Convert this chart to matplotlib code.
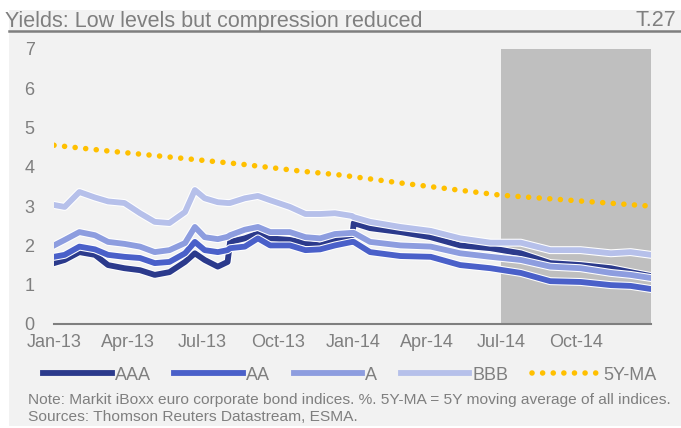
import matplotlib
matplotlib.use("Agg")
import matplotlib.pyplot as plt
import matplotlib.patheffects as pe
from matplotlib.patches import Rectangle
import pandas as pd

# data (%)
dates = ["2013-01-01", "2013-01-14", "2013-02-01", "2013-02-20", "2013-03-08",
         "2013-03-28", "2013-04-16", "2013-05-04", "2013-05-22", "2013-06-10",
         "2013-06-22", "2013-07-04", "2013-07-20", "2013-08-01", "2013-08-04",
         "2013-08-22", "2013-09-07", "2013-09-22", "2013-10-16", "2013-11-04",
         "2013-11-22", "2013-12-10", "2013-12-31", "2014-01-02", "2014-01-22",
         "2014-02-28", "2014-04-06", "2014-05-12", "2014-06-18", "2014-07-25",
         "2014-08-30", "2014-10-06", "2014-11-12", "2014-12-06", "2014-12-31"]
aaa = [1.55, 1.63, 1.83, 1.76, 1.50, 1.42, 1.37, 1.25, 1.32, 1.58,
       1.80, 1.63, 1.46, 1.58, 2.09, 2.18, 2.30, 2.18, 2.14, 2.06,
       2.00, 2.14, 2.18, 2.57, 2.44, 2.34, 2.21, 2.00, 1.93, 1.80,
       1.55, 1.50, 1.42, 1.32, 1.22]
aa = [1.71, 1.76, 1.97, 1.90, 1.76, 1.71, 1.68, 1.55, 1.58, 1.80,
      2.09, 1.88, 1.83, 1.88, 1.93, 1.97, 2.18, 2.00, 2.00, 1.88,
      1.90, 2.00, 2.09, 2.09, 1.83, 1.73, 1.71, 1.50, 1.42, 1.30,
      1.09, 1.07, 0.99, 0.97, 0.89]
a = [2.00, 2.14, 2.34, 2.26, 2.09, 2.04, 1.97, 1.83, 1.88, 2.06,
     2.47, 2.21, 2.16, 2.22, 2.26, 2.40, 2.47, 2.34, 2.34, 2.21,
     2.18, 2.29, 2.32, 2.32, 2.09, 2.00, 1.97, 1.80, 1.71, 1.63,
     1.46, 1.42, 1.30, 1.25, 1.17]
bbb = [3.03, 2.98, 3.36, 3.22, 3.12, 3.08, 2.82, 2.60, 2.57, 2.85,
       3.41, 3.20, 3.10, 3.08, 3.08, 3.20, 3.26, 3.15, 2.98, 2.80,
       2.80, 2.82, 2.75, 2.72, 2.60, 2.47, 2.37, 2.18, 2.07, 2.07,
       1.88, 1.88, 1.80, 1.83, 1.76]

ma_dates = ["2013-01-01", "2013-03-10", "2013-04-28", "2013-08-17", "2013-10-30",
            "2013-12-18", "2014-02-28", "2014-06-30", "2014-10-06", "2014-12-31"]
ma = [4.55, 4.40, 4.30, 4.07, 3.89, 3.79, 3.59, 3.28, 3.13, 3.00]

shade_start, shade_end = "2014-07-01", "2014-12-31"
tick_dates = ["2013-01-01", "2013-04-01", "2013-07-01", "2013-10-01",
              "2014-01-01", "2014-04-01", "2014-07-01", "2014-10-01"]
tick_labels = ["Jan-13", "Apr-13", "Jul-13", "Oct-13", "Jan-14", "Apr-14", "Jul-14", "Oct-14"]

series = [("AAA", aaa, "#2B3A8C"), ("AA", aa, "#4A60C9"),
          ("A", a, "#8D9DDF"), ("BBB", bbb, "#B6C0EA")]

plt.rcParams["font.family"] = ["Liberation Sans", "DejaVu Sans"]
GREY = "#7F7F7F"

fig = plt.figure(figsize=(6.81, 4.28), dpi=100, facecolor="white")
fig.patches.append(Rectangle((9 / 681, 2 / 428), 1 - 9 / 681, 1 - 12 / 428,
                             transform=fig.transFigure, facecolor="#F2F2F2",
                             edgecolor="none", zorder=-10))

ax = fig.add_axes([54 / 681, 1 - 324 / 428, 597 / 681, 275 / 428])
ax.set_facecolor("none")

x = pd.to_datetime(dates)
ax.axvspan(pd.Timestamp(shade_start), pd.Timestamp(shade_end), color="#BFBFBF", lw=0, zorder=1)

for name, vals, col in series:
    ax.plot(x, vals, color=col, lw=4.2, label=name, zorder=3,
            solid_joinstyle="round",
            path_effects=[pe.Stroke(linewidth=5.7, foreground="white"), pe.Normal()])

ax.plot(pd.to_datetime(ma_dates), ma, color="#FFC000", lw=4.0,
        linestyle=(0, (0.01, 1.9)), dash_capstyle="round", label="5Y-MA", zorder=4)

ax.set_xlim(pd.Timestamp("2013-01-01"), pd.Timestamp("2014-12-31"))
ax.set_ylim(0, 7)
ax.set_yticks(range(0, 8))
ax.set_xticks(pd.to_datetime(tick_dates))
ax.set_xticklabels(tick_labels)
ax.tick_params(axis="both", length=0, colors=GREY, labelsize=13)
ax.tick_params(axis="y", pad=14)
ax.tick_params(axis="x", pad=7)
for s in ["top", "right", "left"]:
    ax.spines[s].set_visible(False)
ax.spines["bottom"].set_color(GREY)
ax.spines["bottom"].set_linewidth(1.5)
ax.spines["bottom"].set_zorder(5)

# title bar
fig.text(5 / 681, 1 - 21 / 428, "Yields: Low levels but compression reduced",
         fontsize=15.5, color=GREY, va="center", ha="left")
fig.text(676 / 681, 1 - 21 / 428, "T.27", fontsize=15.5, color=GREY, va="center", ha="right")
fig.add_artist(plt.Line2D([9 / 681, 1], [1 - 31 / 428, 1 - 31 / 428],
                          transform=fig.transFigure, color=GREY, lw=1.8))

handles, labels = ax.get_legend_handles_labels()
leg = fig.legend(handles, labels, loc="center", bbox_to_anchor=(350 / 681, 1 - 375 / 428),
                 ncol=5, frameon=False, fontsize=13, handlelength=3.8,
                 handletextpad=0.17, columnspacing=1.3, labelcolor=GREY)
for h in leg.legend_handles:
    h.set_path_effects([])

fig.text(28 / 681, 1 - 400 / 428,
         "Note: Markit iBoxx euro corporate bond indices. %. 5Y-MA = 5Y moving average of all indices.",
         fontsize=11.15, color=GREY, va="center", ha="left")
fig.text(28 / 681, 1 - 417 / 428, "Sources: Thomson Reuters Datastream, ESMA.",
         fontsize=11.15, color=GREY, va="center", ha="left")

fig.savefig("out.png", dpi=100, facecolor=fig.get_facecolor())
